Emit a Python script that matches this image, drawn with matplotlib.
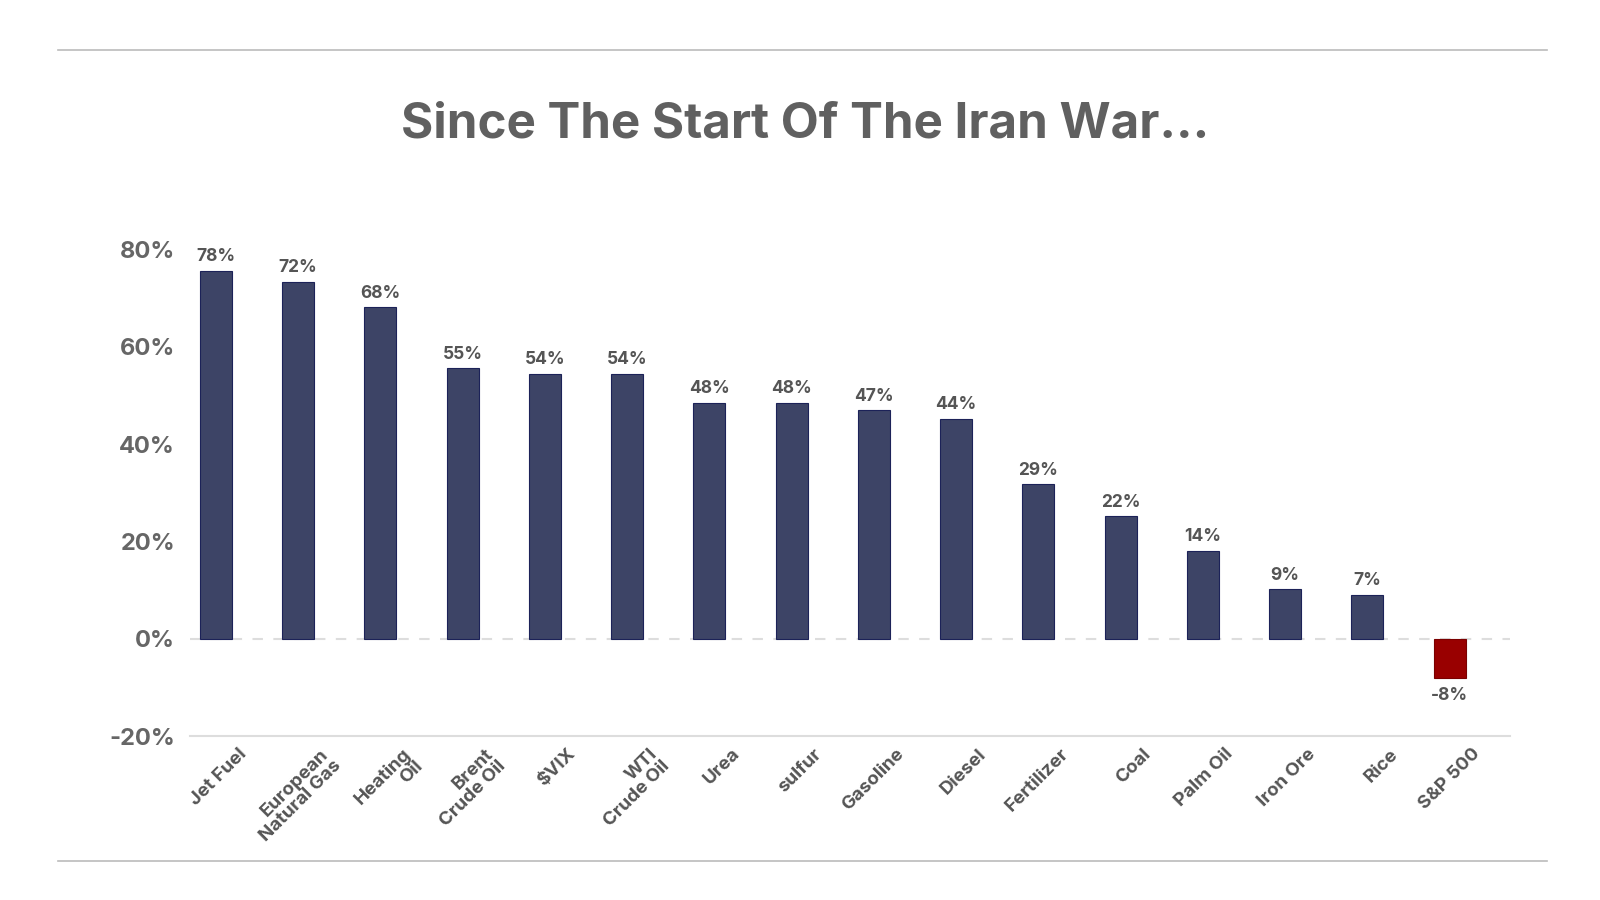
import matplotlib
matplotlib.use("Agg")
from matplotlib import pyplot as plt
from matplotlib.lines import Line2D
import matplotlib.transforms as mtransforms
import numpy as np

plt.rcParams['font.family'] = ['Inter', 'DejaVu Sans']

categories = ["Jet Fuel", "European\nNatural Gas", "Heating\nOil", "Brent\nCrude Oil",
              "$VIX", "WTI\nCrude Oil", "Urea", "sulfur", "Gasoline", "Diesel",
              "Fertilizer", "Coal", "Palm Oil", "Iron Ore", "Rice", "S&P 500"]
# bar heights as drawn (%)
values = [75.6, 73.3, 68.1, 55.6, 54.4, 54.4, 48.5, 48.5, 46.9, 45.2,
          31.7, 25.2, 18.1, 10.2, 9.0, -8.1]
# labels printed above the bars
value_labels = ["78%", "72%", "68%", "55%", "54%", "54%", "48%", "48%", "47%", "44%",
                "29%", "22%", "14%", "9%", "7%", "-8%"]
yticks = [-20, 0, 20, 40, 60, 80]

navy = "#3d4466"
red = "#990000"
colors = [red if v < 0 else navy for v in values]
edges = ["#7a0000" if v < 0 else "#1c2258" for v in values]

fig = plt.figure(figsize=(16, 9), dpi=100)
ax = fig.add_axes([0.119, 0.182, 0.825, 0.541])

x = np.arange(len(categories))
ax.bar(x, values, width=0.39, color=colors, edgecolor=edges, linewidth=0.8, zorder=3)

for xi, v, lab in zip(x, values, value_labels):
    if v >= 0:
        ax.annotate(lab, (xi, v), xytext=(0, 4), textcoords="offset points",
                    ha="center", va="bottom", fontsize=12.5, fontweight="bold", color="#555555")
    else:
        ax.annotate(lab, (xi, v), xytext=(0, -6), textcoords="offset points",
                    ha="center", va="top", fontsize=12.5, fontweight="bold", color="#555555")

ax.axhline(0, color="#dddddd", linestyle=(0, (5, 5)), linewidth=1.5, zorder=1)

ax.set_xlim(-0.31, 15.74)
ax.set_ylim(-20, 80)
ax.set_yticks(yticks)
ax.set_yticklabels(["%d%%" % t for t in yticks], fontsize=17, fontweight="bold", color="#666666")
ax.set_xticks(x)
ax.set_xticklabels(categories, rotation=45, ha="right", rotation_mode="anchor",
                   fontsize=13.5, fontweight="bold", color="#555555", linespacing=1.0)
ax.tick_params(axis="both", length=0)
ax.tick_params(axis="y", pad=11)
ax.tick_params(axis="x", pad=6)

# shift the rotated labels to the right like the original
shift = mtransforms.ScaledTranslation(22 / 100, -1 / 100, fig.dpi_scale_trans)
for lab in ax.get_xticklabels():
    lab.set_transform(lab.get_transform() + shift)

for s in ["top", "right", "left"]:
    ax.spines[s].set_visible(False)
ax.spines["bottom"].set_color("#dddddd")
ax.spines["bottom"].set_linewidth(1.5)

fig.text(0.503, 0.862, "Since The Start Of The Iran War...", ha="center", va="center",
         fontsize=35.5, fontweight="bold", color="#606060")

fig.add_artist(Line2D([0.036, 0.967], [0.944, 0.944], color="#bbbbbb", linewidth=1.2))
fig.add_artist(Line2D([0.036, 0.967], [0.043, 0.043], color="#bbbbbb", linewidth=1.2))

fig.savefig("out.png", dpi=100)
